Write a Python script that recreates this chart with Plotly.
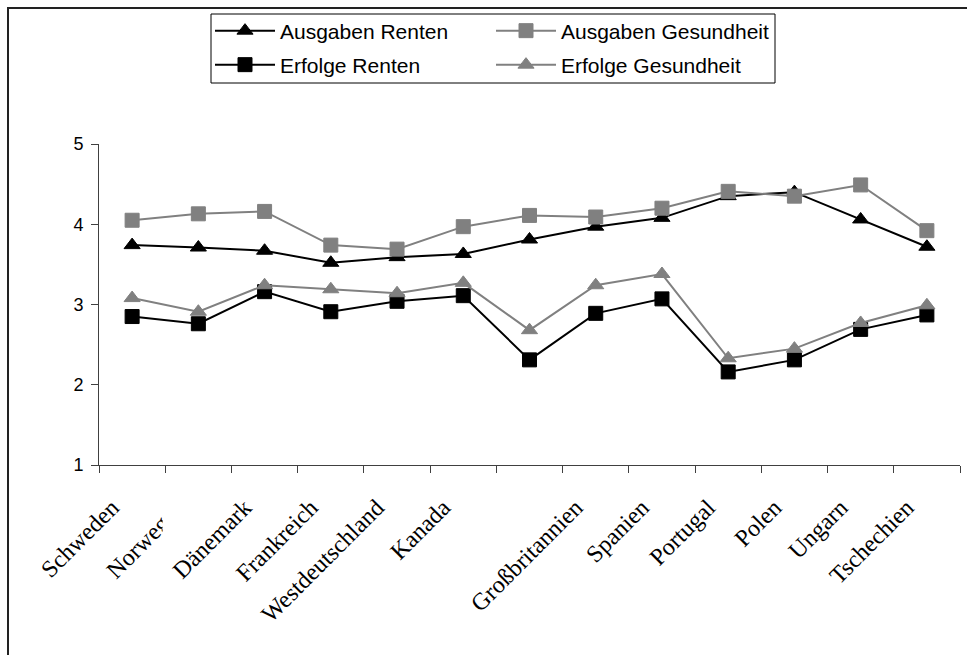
import plotly.graph_objects as go

# ---- data ----
countries = ["Schweden", "Norwegen", "Dänemark", "Frankreich", "Westdeutschland",
             "Kanada", " ", "Großbritannien", "Spanien", "Portugal", "Polen",
             "Ungarn", "Tschechien"]
ausgaben_renten = [3.74, 3.71, 3.67, 3.52, 3.59, 3.63, 3.81, 3.97, 4.08, 4.35, 4.40, 4.06, 3.72]
ausgaben_gesundheit = [4.05, 4.13, 4.16, 3.74, 3.69, 3.97, 4.11, 4.09, 4.20, 4.41, 4.35, 4.49, 3.92]
erfolge_renten = [2.85, 2.76, 3.16, 2.91, 3.04, 3.11, 2.31, 2.89, 3.07, 2.16, 2.31, 2.69, 2.87]
erfolge_gesundheit = [3.08, 2.91, 3.24, 3.19, 3.14, 3.27, 2.68, 3.24, 3.38, 2.33, 2.45, 2.77, 2.99]
y_ticks = [1, 2, 3, 4, 5]

# ---- geometry ----
W, H = 967, 655
ML, MR, MT, MB = 99, 7, 144, 190
PW, PH = W - ML - MR, H - MT - MB


def px(x):
    return (x - ML) / PW


def py(y):
    return (MT + PH - y) / PH


BLACK = "#000000"
GRAY = "#808080"

fig = go.Figure()


def add(name, vals, color, symbol, legend):
    fig.add_trace(go.Scatter(
        x=countries, y=vals, name=name, mode="lines+markers",
        line=dict(color=color, width=2),
        marker=dict(symbol=symbol, size=14, color=color, line=dict(color=color, width=1)),
        legend=legend, showlegend=True,
    ))


add("Ausgaben Renten", ausgaben_renten, BLACK, "triangle-up", "legend")
add("Ausgaben Gesundheit", ausgaben_gesundheit, GRAY, "square", "legend2")
add("Erfolge Renten", erfolge_renten, BLACK, "square", "legend3")
add("Erfolge Gesundheit", erfolge_gesundheit, GRAY, "triangle-up", "legend4")

leg_font = dict(family="Liberation Sans, Arial, sans-serif", size=21, color="#000")


def leg(x, y):
    return dict(x=px(x), y=py(y), xanchor="left", yanchor="middle", bgcolor="rgba(0,0,0,0)",
                borderwidth=0, font=leg_font, itemwidth=60, itemclick=False)


fig.update_layout(
    width=W, height=H,
    showlegend=True,
    margin=dict(l=ML, r=MR, t=MT, b=MB, autoexpand=False),
    paper_bgcolor="white", plot_bgcolor="white",
    legend=leg(210, 31),
    legend2=leg(491, 31),
    legend3=leg(210, 65),
    legend4=leg(491, 65),
    xaxis=dict(
        type="category", range=[-0.5, len(countries) - 0.5], tickson="boundaries",
        ticks="outside", ticklen=7, tickcolor="#404040", showline=True, linecolor="#404040",
        linewidth=1, showgrid=False, tickangle=-45, ticklabelstandoff=18, ticklabelshift=-20,
        automargin=False,
        tickfont=dict(family="Liberation Serif, Times New Roman, serif", size=24, color="#000"),
    ),
    yaxis=dict(
        range=[1, 5], tickvals=y_ticks, ticks="outside", ticklen=7, tickcolor="#404040",
        showline=True, linecolor="#404040", linewidth=1, showgrid=False, zeroline=False,
        ticklabelstandoff=4, automargin=False,
        tickfont=dict(family="Liberation Sans, Arial, sans-serif", size=18, color="#000"),
    ),
    shapes=[
        # white cover that clips the "Norwegen" label like in the reference
        dict(type="rect", xref="x", yref="paper", x0=0.46, x1=1.1, y0=py(545), y1=py(473),
             fillcolor="white", line=dict(width=0), layer="above"),
        # legend box
        dict(type="rect", xref="paper", yref="paper", x0=px(211), x1=px(775), y0=py(83), y1=py(14),
             line=dict(color="#000", width=1), fillcolor="rgba(0,0,0,0)", layer="above"),
        # outer chart frame
        dict(type="rect", xref="paper", yref="paper", x0=px(8), x1=px(980), y0=py(670), y1=py(8),
             line=dict(color="#222", width=2), fillcolor="rgba(0,0,0,0)", layer="above"),
    ],
)

fig.write_html(
    "out.html",
    config={"displayModeBar": False},
    post_script="document.body.style.margin='0';document.body.style.overflow='hidden';",
)
